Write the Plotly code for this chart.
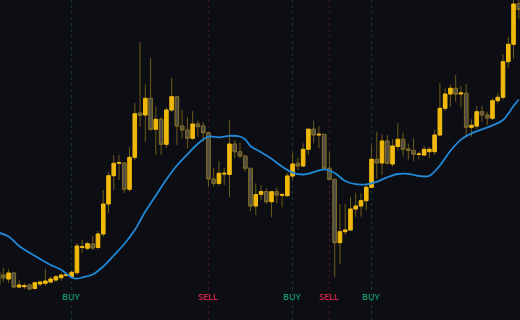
import plotly.graph_objects as go

# Candle index (time) and OHLC prices
idx = list(range(100))
open_ = [48, 45, 41, 47, 33, 33.3, 35, 31.5, 36, 36.7, 38, 40, 42.3, 44.5, 43.3, 47.3, 72.5, 71.7, 76, 72.5,
         86, 116, 144.3, 156.7, 157, 130.7, 162.7, 207, 205, 221.7, 190.7, 200.7, 175.7, 210, 223.3, 194, 190, 181.7, 196, 194,
         187.3, 141, 136.5, 146, 145.5, 176, 168.3, 164, 151.7, 114, 125.7, 128.5, 118.3, 128.3, 124.7, 124.3, 144, 156.7, 154, 170.7,
         190.8, 185, 185.7, 151.7, 140.7, 77.3, 88.3, 90, 111, 114, 119.3, 132.7, 160.7, 157, 179, 156, 173.5, 180.7, 171, 169.5,
         165.5, 165, 168.3, 168.3, 185, 211.7, 226, 231.7, 226, 226.7, 192.7, 194, 208.3, 205, 201.7, 219.3, 222.7, 258.3, 275.7, 316.5]
high = [53, 52, 51, 48, 40, 37, 36.5, 38.3, 39.3, 51, 43.3, 45, 46.7, 47.3, 49, 77, 80, 78, 84, 89,
        130, 148, 165, 165, 157.3, 173, 217, 278, 235.5, 262, 213, 203, 212.5, 242, 223.3, 210, 203.3, 209, 199.3, 198.3,
        188.3, 152, 159, 152, 199.5, 180, 177.3, 164, 151.7, 136.7, 135, 132, 128.3, 132.7, 127.3, 147, 167.5, 162, 176.7, 191,
        199.3, 194, 185.7, 168.3, 140.7, 116, 116, 123.3, 127.3, 126.7, 135, 175, 188.5, 185.5, 185, 181, 196.7, 187.3, 176.5, 181.5,
        168.3, 174, 173, 190, 237, 231.7, 235.5, 245, 234, 236, 200.7, 214, 214, 208.3, 221.7, 227.3, 266, 283.3, 323, 325]
low = [27, 38, 37, 32, 32, 31, 30, 30.7, 34, 34, 36.7, 38, 39.3, 43, 42.7, 45, 67, 70, 70, 70.7,
       83.3, 107, 130, 140, 127, 128.3, 160, 193.3, 178.3, 189, 165, 165, 172, 208.3, 175, 181.7, 171.7, 180, 183.3, 178.3,
       133.3, 133.3, 134, 135, 123, 161.7, 161.7, 148.3, 109, 105, 120, 116, 102.7, 116.7, 112.7, 123.3, 140, 150, 153.3, 165,
       176.7, 171.7, 150, 140, 42.7, 55.7, 85, 89.3, 103.3, 103.3, 110, 131.7, 141.7, 145, 155.7, 153.5, 169.5, 163.5, 160.5, 159,
       160.7, 164, 162, 165, 183.3, 209, 213.3, 218.3, 212.7, 183.3, 183.3, 191, 198.3, 195, 200, 216.5, 220.5, 251.7, 261.7, 301]
close = [35, 42, 47, 33, 35, 34.3, 31, 37.3, 38, 39, 41, 43.3, 45, 45.5, 47.7, 74, 73.3, 76.3, 72, 86,
         116, 144.3, 156.7, 157.5, 130.7, 162.7, 206.3, 204.5, 221.7, 190.7, 200.7, 175.7, 210, 223.3, 194, 190, 181.7, 196, 193.3, 187.3,
         141, 136.7, 146.7, 146.7, 176, 168.3, 164, 151.7, 114, 125.5, 128.5, 118.3, 128.3, 125, 125.3, 144, 156, 154, 170.7, 190.8,
         185, 185.7, 151.7, 140.7, 77.3, 88.3, 90, 111, 114, 119.3, 132.7, 160.7, 157, 179, 156.7, 174, 180.7, 170.7, 169.5, 165.8,
         166, 170.7, 170.7, 185, 211.7, 226, 231.7, 225.8, 227, 192.7, 194.7, 208.3, 205, 202, 219.3, 222.7, 258.3, 275.7, 316, 310.5]

# Moving average
ma_idx = [0, 2, 4, 6, 8, 10, 12, 14, 15, 16, 18, 20, 22, 24, 26, 28, 30, 32, 34, 36, 38, 40, 42, 44, 46, 47, 48,
          50, 52, 54, 56, 58, 60, 62, 64, 66, 68, 70, 72, 74, 76, 78, 80, 82, 84, 86, 88, 90, 92, 94, 96, 98, 99]
ma_val = [87.5, 83.5, 74, 67.3, 61, 55, 50.3, 42.5, 41.3, 42.5, 45.5, 53.5, 64.5, 76, 90, 108.5, 124.5, 140.5, 154.5,
          165.7, 176.3, 183.3, 182.7, 184.2, 183.5, 180.5, 174, 167.8, 161.2, 153.5, 147.4, 145.5, 147.8, 150.6, 147, 139,
          135.8, 135.7, 138.2, 142.7, 146, 146.2, 144, 144.2, 154.5, 169.2, 180.4, 186.6, 190.6, 194.6, 200, 214, 220.5]

# Signals
sig_idx = [14, 40, 56, 63, 71]
sig_type = ["BUY", "SELL", "BUY", "SELL", "BUY"]

BG = "#0c0e13"
YEL = "#f0b90b"
WICK = "#6e5a1c"

body_hi = [max(o, c) for o, c in zip(open_, close)]
body_lo = [min(o, c) for o, c in zip(open_, close)]

fig = go.Figure()
# wicks
fig.add_trace(go.Candlestick(
    x=idx, open=open_, high=high, low=low, close=close,
    increasing=dict(line=dict(color=WICK, width=1), fillcolor="rgba(0,0,0,0)"),
    decreasing=dict(line=dict(color=WICK, width=1), fillcolor="rgba(0,0,0,0)"),
    whiskerwidth=0, hoverinfo="skip", showlegend=False))
# bodies
fig.add_trace(go.Candlestick(
    x=idx, open=open_, high=body_hi, low=body_lo, close=close,
    increasing=dict(line=dict(color=YEL, width=1), fillcolor=YEL),
    decreasing=dict(line=dict(color="#7d6a28", width=1), fillcolor="#4f4c45"),
    whiskerwidth=0, showlegend=False))
fig.add_trace(go.Scatter(x=ma_idx, y=ma_val, mode="lines", line=dict(color="#2188d8", width=1.8, shape="spline"),
                         showlegend=False, hoverinfo="skip"))

for i, t in zip(sig_idx, sig_type):
    lc = "#143a30" if t == "BUY" else "#41181f"
    tc = "#16946a" if t == "BUY" else "#d0264c"
    fig.add_shape(type="line", xref="x", yref="paper", x0=i, x1=i, y0=0, y1=1,
                  line=dict(color=lc, width=1, dash="dot"), layer="below")
    fig.add_annotation(x=i, y=0.072, xref="x", yref="paper", text=t, showarrow=False,
                       font=dict(family="Open Sans", size=9, color=tc, weight=600),
                       xanchor="center", yanchor="middle")

fig.update_layout(
    width=520, height=320, margin=dict(l=0, r=0, t=0, b=0),
    paper_bgcolor=BG, plot_bgcolor=BG,
    xaxis=dict(range=[0.373, 99.23], visible=False, rangeslider=dict(visible=False), showgrid=False, zeroline=False),
    yaxis=dict(range=[0, 320], visible=False, showgrid=False, zeroline=False),
    boxgap=0.05,
)
fig.write_html("out.html")
